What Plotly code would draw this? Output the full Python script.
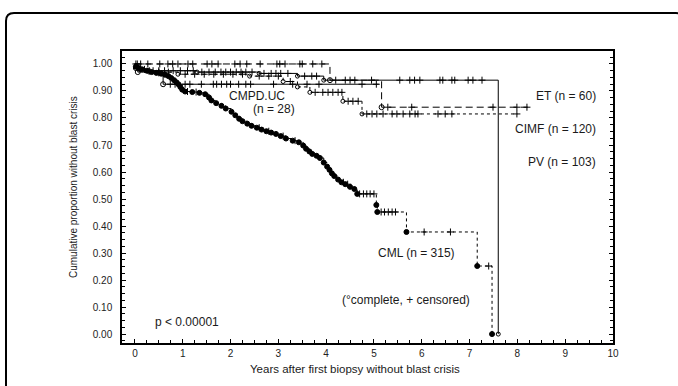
import plotly.graph_objects as go
from bisect import bisect_right

# ---------------- data (years, cumulative proportion without blast crisis) ----------------
# CML (n = 315) - dotted, filled dots = events
cml_t = [0.02, 0.08, 0.15, 0.25, 0.35, 0.45, 0.55, 0.63, 0.70, 0.76, 0.82, 0.87, 0.91, 0.95,
         0.99, 1.05, 1.20, 1.35, 1.47, 1.55, 1.60, 1.70, 1.81, 1.90, 2.02, 2.10, 2.18, 2.25,
         2.35, 2.44, 2.55, 2.65, 2.75, 2.85, 2.95, 3.05, 3.16, 3.30, 3.43, 3.52, 3.58, 3.65,
         3.71, 3.80, 3.87, 3.95, 4.02, 4.07, 4.12, 4.17, 4.25, 4.32, 4.40, 4.50, 4.59, 4.65,
         5.05, 5.07, 5.68, 7.16, 7.47]
cml_s = [0.990, 0.985, 0.980, 0.975, 0.970, 0.967, 0.964, 0.960, 0.955, 0.948, 0.940, 0.932,
         0.925, 0.915, 0.905, 0.898, 0.896, 0.893, 0.888, 0.876, 0.865, 0.855, 0.845, 0.835,
         0.823, 0.810, 0.797, 0.788, 0.779, 0.771, 0.764, 0.757, 0.751, 0.746, 0.741, 0.733,
         0.724, 0.716, 0.710, 0.698, 0.686, 0.676, 0.667, 0.660, 0.652, 0.635, 0.620, 0.608,
         0.595, 0.585, 0.572, 0.562, 0.555, 0.545, 0.537, 0.519, 0.478, 0.452, 0.378, 0.252, 0.0]
cml_end = 7.47
cml_cens = [0.30, 0.50, 1.10, 1.28, 2.60, 2.80, 3.10, 3.35, 4.36, 4.45, 4.70, 4.78, 4.85,
            4.92, 5.00, 5.15, 5.22, 5.30, 5.38, 5.45, 6.05, 6.60, 7.40]

# ET (n = 60) - long dashes
et_t = [4.08, 5.16]
et_s = [0.940, 0.840]
et_end = 8.25
et_cens = [0.02, 0.05, 0.12, 0.27, 0.52, 0.69, 0.79, 0.90, 1.11, 1.21, 1.51, 1.61, 1.74, 2.09,
           2.20, 2.34, 2.62, 2.97, 3.03, 3.14, 3.45, 3.50, 3.72, 3.91, 4.50, 4.95, 5.29, 5.79,
           7.49, 7.99, 8.20]

# PV (n = 103) - solid
pv_t = [0.04, 0.12, 0.30, 1.30, 2.60, 3.40, 3.95, 7.60]
pv_s = [0.990, 0.980, 0.975, 0.970, 0.965, 0.955, 0.940, 0.0]
pv_end = 7.60
pv_cens = [0.20, 0.38, 0.50, 0.62, 0.80, 0.95, 1.10, 1.22, 1.40, 1.55, 1.68, 1.80, 1.90, 2.00,
           2.12, 2.22, 2.32, 2.45, 2.70, 2.85, 2.95, 3.05, 3.20, 3.55, 3.70, 3.80, 4.20, 4.40,
           4.60, 5.54, 5.75, 5.85, 5.96, 6.38, 6.44, 6.63, 6.69, 6.97, 7.07, 7.26]

# CIMF (n = 120) - fine dots
cimf_t = [0.03, 0.10, 0.30, 0.90, 2.40, 3.10, 3.40, 3.66, 4.35, 4.75]
cimf_s = [0.990, 0.980, 0.970, 0.962, 0.955, 0.935, 0.915, 0.895, 0.862, 0.815]
cimf_end = 8.0
cimf_cens = [0.50, 0.70, 1.05, 1.25, 1.45, 1.65, 1.85, 2.05, 2.25, 2.60, 2.80, 3.00, 3.25,
             3.77, 3.93, 4.04, 4.14, 4.25, 4.33, 4.46, 4.56, 4.67, 4.85, 4.96, 5.06, 5.19,
             5.38, 5.48, 5.61, 5.75, 5.86, 5.92, 6.34, 6.49, 6.63, 7.99]

# CMPD.UC (n = 28) - solid, open circles
cmpd_t = [0.02, 0.06, 0.59]
cmpd_s = [0.985, 0.970, 0.925]
cmpd_end = 5.10
cmpd_cens = [0.74, 0.84, 1.05, 1.15, 1.39, 1.64, 1.71, 1.81, 1.92, 2.00, 2.17, 2.32, 2.42,
             2.90, 3.30, 3.60, 3.85, 4.75, 5.05]

x_ticks = list(range(0, 11))
y_ticks = [0.0, 0.1, 0.2, 0.3, 0.4, 0.5, 0.6, 0.7, 0.8, 0.9, 1.0]
y_tick_text = ["0.00", "0.10", "0.20", "0.30", "0.40", "0.50", "0.60", "0.70", "0.80", "0.90", "1.00"]

# ---------------- figure ----------------
FONT = "Liberation Sans, Arial, sans-serif"
W, H = 678, 386
L, R, T, B = 122, 613, 51, 343


def step_value(ts, ss, c):
    i = bisect_right(ts, c)
    return 1.0 if i == 0 else ss[i - 1]


fig = go.Figure()


def add_group(name, ts, ss, end, cens, dash, ev_symbol, ev_size):
    xs = [0.0] + ts + [end]
    ys = [1.0] + ss + [ss[-1]]
    fig.add_trace(go.Scatter(x=xs, y=ys, mode="lines", name=name, showlegend=False,
                             line=dict(color="black", width=1, dash=dash, shape="hv")))
    fig.add_trace(go.Scatter(x=ts, y=ss, mode="markers", name=name, showlegend=False,
                             marker=dict(symbol=ev_symbol, size=ev_size, color="black",
                                         line=dict(color="black", width=1))))
    cy = [step_value(ts, ss, c) for c in cens]
    fig.add_trace(go.Scatter(x=cens, y=cy, mode="markers", name=name, showlegend=False,
                             marker=dict(symbol="cross-thin", size=5,
                                         line=dict(color="black", width=1))))


add_group("PV", pv_t, pv_s, pv_end, pv_cens, "solid", "circle-open", 4)
add_group("CMPD.UC", cmpd_t, cmpd_s, cmpd_end, cmpd_cens, "solid", "circle-open", 5)
add_group("CIMF", cimf_t, cimf_s, cimf_end, cimf_cens, "dot", "circle-open", 4)
add_group("ET", et_t, et_s, et_end, et_cens, "7px,4px", "circle-open", 5)
add_group("CML", cml_t, cml_s, cml_end, cml_cens, "dot", "circle", 5)


def px(xp):
    return (xp - L) / (R - L)


def py(yp):
    return (B - yp) / (B - T)


def ann(text, x, y, xanchor="center", size=12, angle=0):
    fig.add_annotation(text=text, xref="paper", yref="paper", x=px(x), y=py(y),
                       xanchor=xanchor, yanchor="middle", showarrow=False, textangle=angle,
                       font=dict(family=FONT, size=size, color="#1a1a1a"))


ann("CMPD.UC", 257, 96)
ann("(n = 28)", 274, 109)
ann("ET (n = 60)", 598, 96, xanchor="right")
ann("CIMF (n = 120)", 598, 129, xanchor="right")
ann("PV (n = 103)", 598, 162, xanchor="right")
ann("CML (n = 315)", 416, 253)
ann("(°complete, + censored)", 406, 300)
ann("p < 0.00001", 153, 322, xanchor="left")
ann("Years after first biopsy without blast crisis", 355, 369, size=11.5)
ann("Cumulative proportion without blast crisis", 73, 187, size=10, angle=-90)

# rounded outer frame of the figure panel
x0, y0, x1, y1, r = px(6), py(13), px(684), py(420), 8
rx, ry = r / (R - L), r / (B - T)
path = (f"M {x0},{y1} L {x0},{y0 - ry} Q {x0},{y0} {x0 + rx},{y0} "
        f"L {x1 - rx},{y0} Q {x1},{y0} {x1},{y0 - ry} L {x1},{y1}")
fig.add_shape(type="path", path=path, xref="paper", yref="paper",
              line=dict(color="black", width=2))

axis_common = dict(showline=True, linecolor="black", linewidth=1.5, showgrid=False,
                   zeroline=False, ticks="inside", ticklen=4, tickwidth=1, tickcolor="black",
                   tickfont=dict(family=FONT, size=10, color="#222"))

fig.update_layout(
    width=W, height=H,
    margin=dict(l=L, r=W - R, t=T, b=H - B),
    paper_bgcolor="white", plot_bgcolor="white",
    showlegend=False,
    xaxis=dict(range=[-0.27, 10.0], tickvals=x_ticks, mirror=True,
               minor=dict(dtick=0.25, ticks="inside", ticklen=3, tickcolor="black"),
               **axis_common),
    yaxis=dict(range=[-0.033, 1.048], tickvals=y_ticks, ticktext=y_tick_text, mirror="ticks",
               ticklabelstandoff=6,
               minor=dict(dtick=0.025, ticks="inside", ticklen=3, tickcolor="black"),
               **axis_common),
)

fig.write_html("out.html", config={"displayModeBar": False},
               post_script="document.body.style.margin='0px';document.body.style.overflow='hidden';")
